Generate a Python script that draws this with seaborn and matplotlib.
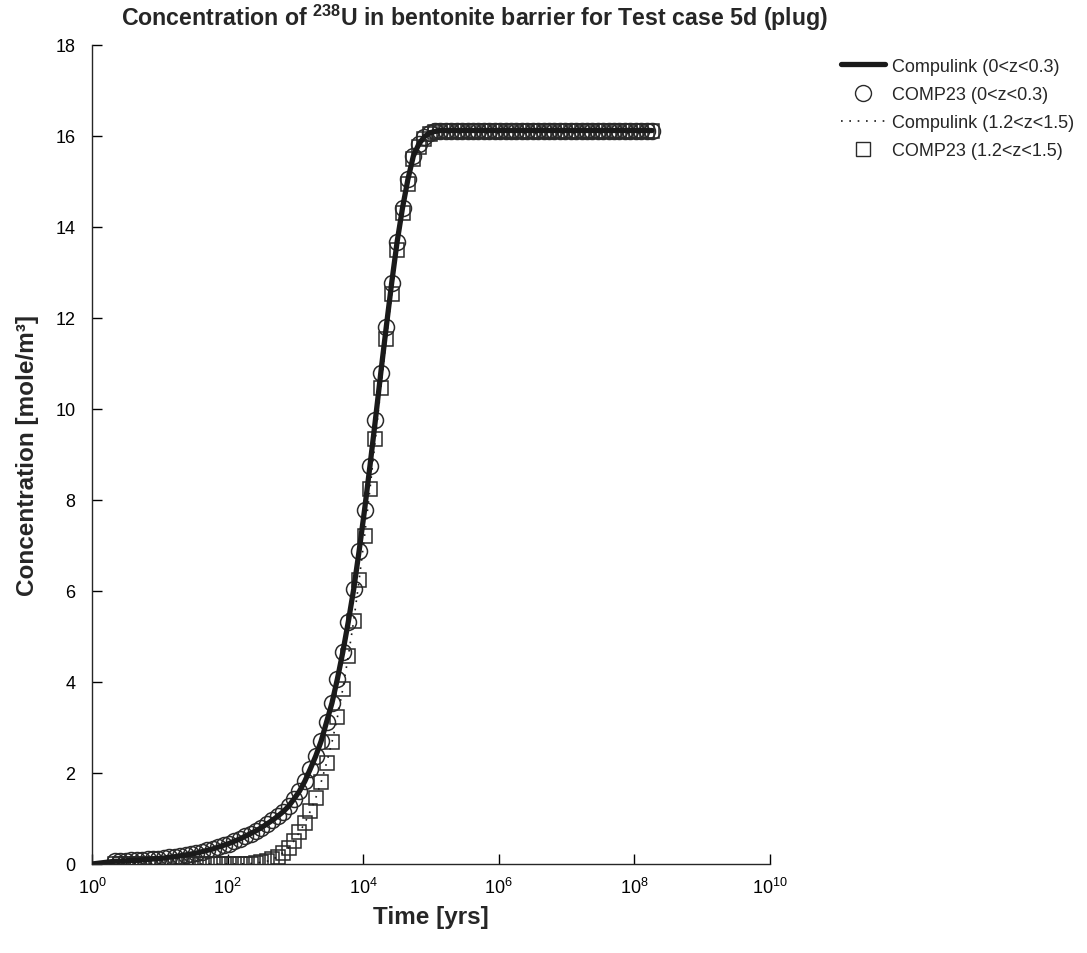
import matplotlib
matplotlib.use("Agg")
import numpy as np
import pandas as pd
import seaborn as sns
import matplotlib.pyplot as plt
from matplotlib.ticker import FixedLocator, NullLocator, FuncFormatter
from matplotlib.lines import Line2D

# ---------------- data ----------------
log_time = [0.34, 0.42, 0.50, 0.58, 0.66, 0.74, 0.82, 0.90, 0.98, 1.06,
            1.14, 1.22, 1.30, 1.38, 1.46, 1.54, 1.62, 1.70, 1.78, 1.86,
            1.94, 2.02, 2.10, 2.18, 2.26, 2.34, 2.42, 2.50, 2.58, 2.66,
            2.74, 2.82, 2.90, 2.98, 3.06, 3.14, 3.22, 3.30, 3.38, 3.46,
            3.54, 3.62, 3.70, 3.78, 3.86, 3.94, 4.02, 4.10, 4.18, 4.26,
            4.34, 4.42, 4.50, 4.58, 4.66, 4.74, 4.82, 4.90, 4.98, 5.06,
            5.14, 5.22, 5.30, 5.38, 5.46, 5.54, 5.62, 5.70, 5.78, 5.86,
            5.94, 6.02, 6.10, 6.18, 6.26, 6.34, 6.42, 6.50, 6.58, 6.66,
            6.74, 6.82, 6.90, 6.98, 7.06, 7.14, 7.22, 7.30, 7.38, 7.46,
            7.54, 7.62, 7.70, 7.78, 7.86, 7.94, 8.02, 8.10, 8.18, 8.26]

conc_near = ([0.06, 0.06, 0.07, 0.08, 0.08, 0.09, 0.10, 0.11, 0.12, 0.13,
              0.15, 0.16, 0.18, 0.20, 0.22, 0.24, 0.27, 0.30, 0.33, 0.37,
              0.41, 0.45, 0.50, 0.55, 0.61, 0.67, 0.73, 0.80, 0.88, 0.96,
              1.05, 1.15, 1.27, 1.43, 1.60, 1.82, 2.09, 2.37, 2.70, 3.12,
              3.54, 4.07, 4.66, 5.32, 6.04, 6.88, 7.78, 8.75, 9.76, 10.80,
              11.80, 12.77, 13.67, 14.42, 15.05, 15.56, 15.82, 15.98, 16.07, 16.10]
             + [16.12] * 40)

conc_far = ([0.0] * 24
            + [0.005, 0.01, 0.02, 0.04, 0.06, 0.10,
               0.16, 0.25, 0.36, 0.51, 0.70, 0.90, 1.16, 1.45, 1.80, 2.22,
               2.68, 3.23, 3.85, 4.57, 5.34, 6.24, 7.21, 8.24, 9.34, 10.46,
               11.54, 12.53, 13.50, 14.30, 14.95, 15.50, 15.76, 15.94, 16.04, 16.09,
               16.11]
            + [16.12] * 39)

# Compulink curves start at t = 1 yr with zero concentration
line_log_time = [0.0] + log_time
line_near = [0.0] + conc_near
line_far = [0.0] + conc_far

labels = ["Compulink (0<z<0.3)", "COMP23 (0<z<0.3)",
          "Compulink (1.2<z<1.5)", "COMP23 (1.2<z<1.5)"]
x_ticks_exp = [0, 2, 4, 6, 8, 10]
y_ticks = [0, 2, 4, 6, 8, 10, 12, 14, 16, 18]

# ---------------- style ----------------
sns.set_style("ticks")
plt.rcParams["font.family"] = ["Liberation Sans", "DejaVu Sans"]
plt.rcParams["mathtext.fontset"] = "custom"
plt.rcParams["mathtext.rm"] = "Liberation Sans"
plt.rcParams["mathtext.bf"] = "Liberation Sans:bold"
plt.rcParams["axes.linewidth"] = 1.0

pts = pd.DataFrame({"time": np.power(10.0, log_time),
                    "near": conc_near, "far": conc_far})
lines = pd.DataFrame({"time": np.power(10.0, line_log_time),
                      "near": line_near, "far": line_far})

fig = plt.figure(figsize=(10.87, 9.54), dpi=100)
ax = fig.add_axes([0.0846, 0.0933, 0.6238, 0.8585])
ax.set_xscale("log")

ink = "#1a1a1a"
edge = "#2a2a2a"
sns.lineplot(data=pts, x="time", y="far", ax=ax, estimator=None, sort=False,
             linestyle="", marker="s", markersize=9.5, markerfacecolor="none",
             markeredgecolor=edge, markeredgewidth=1.1, zorder=2)
sns.lineplot(data=pts, x="time", y="near", ax=ax, estimator=None, sort=False,
             linestyle="", marker="o", markersize=11.5, markerfacecolor="none",
             markeredgecolor=edge, markeredgewidth=1.1, zorder=3)
sns.lineplot(data=lines, x="time", y="far", ax=ax, estimator=None, sort=False,
             color=ink, linewidth=1.2, linestyle=(0, (1, 4)), zorder=4)
sns.lineplot(data=lines, x="time", y="near", ax=ax, estimator=None, sort=False,
             color=ink, linewidth=3.8, zorder=5)

ax.set_xlim(1, 1e10)
ax.set_ylim(0, 18)
ax.xaxis.set_major_locator(FixedLocator([10.0 ** e for e in x_ticks_exp]))
ax.xaxis.set_minor_locator(NullLocator())
ax.xaxis.set_major_formatter(FuncFormatter(
    lambda v, p: r"$\mathregular{10^{%d}}$" % int(round(np.log10(v)))))
ax.yaxis.set_major_locator(FixedLocator(y_ticks))
ax.tick_params(axis="both", direction="in", length=7, width=1.0,
               labelsize=13, colors="black")
ax.tick_params(axis="y", pad=12)
ax.tick_params(axis="x", pad=9)
sns.despine(ax=ax)

ax.set_xlabel("Time [yrs]", fontsize=17.5, fontweight="bold", labelpad=6)
ax.set_ylabel("Concentration [mole/m³]", fontsize=17.5, fontweight="bold",
              labelpad=12)

fig.text(0.437, 0.981,
         r"Concentration of $\mathbf{^{238}}$U in bentonite barrier for Test case 5d (plug)",
         ha="center", va="center", fontsize=16.7, fontweight="bold")

handles = [
    Line2D([], [], color=ink, linewidth=3.8),
    Line2D([], [], linestyle="", marker="o", markersize=11.5,
           markerfacecolor="none", markeredgecolor=edge),
    Line2D([], [], color=ink, linewidth=1.2, linestyle=(0, (1, 4))),
    Line2D([], [], linestyle="", marker="s", markersize=9.5,
           markerfacecolor="none", markeredgecolor=edge),
]
fig.legend(handles, labels, loc="upper left", bbox_to_anchor=(0.7675, 0.946),
           frameon=False, fontsize=13, handlelength=2.4, handletextpad=0.4,
           labelspacing=0.62, borderaxespad=0)

fig.savefig("out.png", dpi=100)
